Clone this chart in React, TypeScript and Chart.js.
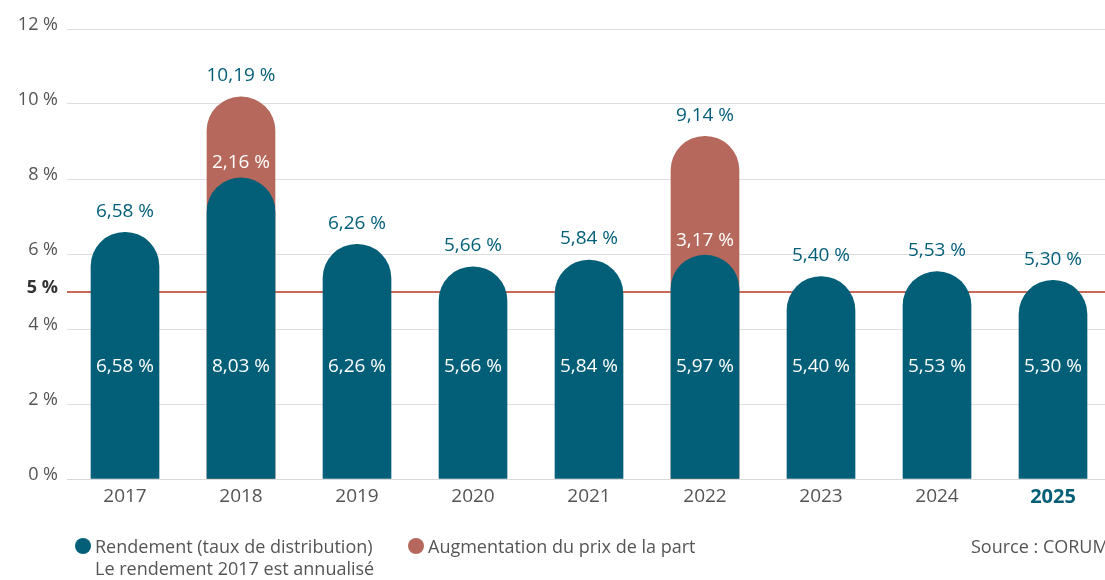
import React, { useEffect, useRef } from "react";
import { Chart, registerables } from "chart.js";

Chart.register(...registerables);

const years = ["2017", "2018", "2019", "2020", "2021", "2022", "2023", "2024", "2025"];
const rendement = [6.58, 8.03, 6.26, 5.66, 5.84, 5.97, 5.4, 5.53, 5.3];
const augmentation = [null, 2.16, null, null, null, 3.17, null, null, null];
const yTickValues = [0, 2, 4, 5, 6, 8, 10, 12];
const thresholdValue = 5;
const innerLabelLevel = 3;

const TEAL = "#035f78";
const RED = "#b5685b";
const LINE_RED = "#c8695c";
const GRAY = "#555555";
const FONT = "'Open Sans', Lato, sans-serif";

const fmt = (v: number) => v.toFixed(2).replace(".", ",") + " %";

const thresholdPlugin = {
  id: "thresholdLine",
  beforeDatasetsDraw(chart: any) {
    const { ctx, chartArea } = chart;
    const y = Math.floor(chart.scales.y.getPixelForValue(thresholdValue)) + 1;
    ctx.save();
    ctx.strokeStyle = LINE_RED;
    ctx.lineWidth = 2;
    ctx.beginPath();
    ctx.moveTo(chartArea.left, y);
    ctx.lineTo(chartArea.right, y);
    ctx.stroke();
    ctx.restore();
  },
};

const labelsPlugin = {
  id: "valueLabels",
  afterDatasetsDraw(chart: any) {
    const ctx = chart.ctx;
    const teal = chart.getDatasetMeta(0);
    const red = chart.getDatasetMeta(1);
    const yScale = chart.scales.y;
    ctx.save();
    ctx.font = `19px ${FONT}`;
    ctx.textAlign = "center";
    ctx.textBaseline = "middle";
    years.forEach((_, i) => {
      const tb = teal.data[i];
      if (!tb) return;
      const inc = augmentation[i];
      const total = inc != null ? rendement[i] + inc : rendement[i];
      const topEl = inc != null ? red.data[i] : tb;
      ctx.fillStyle = TEAL;
      ctx.fillText(fmt(total), tb.x, topEl.y - 21);
      ctx.fillStyle = "#ffffff";
      ctx.fillText(fmt(rendement[i]), tb.x, yScale.getPixelForValue(innerLabelLevel));
      if (inc != null) {
        ctx.fillText(fmt(inc), tb.x, tb.y - 15);
      }
    });
    ctx.restore();
  },
};

export default function App() {
  const ref = useRef<HTMLCanvasElement>(null);
  useEffect(() => {
    if (!ref.current) return;
    const totals = rendement.map((v, i) => (augmentation[i] != null ? v + (augmentation[i] as number) : null));
    const radius = { topLeft: 34, topRight: 34, bottomLeft: 0, bottomRight: 0 };
    const chart = new Chart(ref.current, {
      type: "bar",
      data: {
        labels: years,
        datasets: [
          {
            label: "Rendement (taux de distribution)",
            data: rendement,
            backgroundColor: TEAL,
            borderRadius: radius,
            borderSkipped: false,
            barThickness: 68,
            grouped: false,
          } as any,
          {
            label: "Augmentation du prix de la part",
            data: totals,
            backgroundColor: RED,
            borderRadius: radius,
            borderSkipped: false,
            barThickness: 68,
            grouped: false,
          } as any,
        ],
      },
      options: {
        animation: false,
        responsive: false,
        events: [],
        layout: { padding: { top: 29, right: 9, left: 0, bottom: 0 } },
        plugins: { legend: { display: false }, tooltip: { enabled: false } },
        scales: {
          x: {
            grid: { display: false },
            border: { color: "#d8d8d8" },
            ticks: {
              padding: -2,
              font: (c: any) => ({ size: c.index === 8 ? 20 : 19, family: FONT, weight: c.index === 8 ? "bold" : "normal" }),
              color: (c: any) => (c.index === 8 ? TEAL : GRAY),
            },
            afterFit: (s: any) => {
              s.height = 101;
            },
          } as any,
          y: {
            min: 0,
            max: 12,
            border: { display: false },
            grid: {
              drawTicks: false,
              color: (c: any) => (c.tick && c.tick.value === thresholdValue ? "rgba(0,0,0,0)" : "#dedede"),
              lineWidth: 1,
            },
            afterBuildTicks: (s: any) => {
              s.ticks = yTickValues.map((v) => ({ value: v }));
            },
            ticks: {
              padding: 9,
              labelOffset: -4,
              callback: (v: any) => v + " %",
              font: (c: any) => ({ size: 18, family: FONT, weight: c.tick && c.tick.value === thresholdValue ? "bold" : "normal" }),
              color: (c: any) => (c.tick && c.tick.value === thresholdValue ? "#333333" : GRAY),
            },
            afterFit: (s: any) => {
              s.width = 67;
            },
          } as any,
        },
      },
      plugins: [thresholdPlugin, labelsPlugin],
    });
    return () => chart.destroy();
  }, []);

  const textStyle: React.CSSProperties = {
    position: "absolute",
    fontFamily: FONT,
    fontSize: 18,
    color: GRAY,
    lineHeight: "22px",
    whiteSpace: "nowrap",
  };
  const dot = (color: string, left: number): React.CSSProperties => ({
    position: "absolute",
    left,
    top: 538,
    width: 16,
    height: 16,
    borderRadius: "50%",
    background: color,
  });

  return (
    <div style={{ position: "absolute", left: 0, top: 0, width: 1105, height: 580, overflow: "hidden", background: "#fff" }}>
      <canvas ref={ref} width={1120} height={580} style={{ display: "block", width: 1120, height: 580 }} />
      <div style={dot(TEAL, 75)} />
      <div style={{ ...textStyle, left: 95, top: 535 }}>
        Rendement (taux de distribution)
        <br />
        Le rendement 2017 est annualisé
      </div>
      <div style={dot(RED, 408)} />
      <div style={{ ...textStyle, left: 428, top: 535 }}>Augmentation du prix de la part</div>
      <div style={{ ...textStyle, left: 971, top: 535 }}>Source : CORUM</div>
    </div>
  );
}
